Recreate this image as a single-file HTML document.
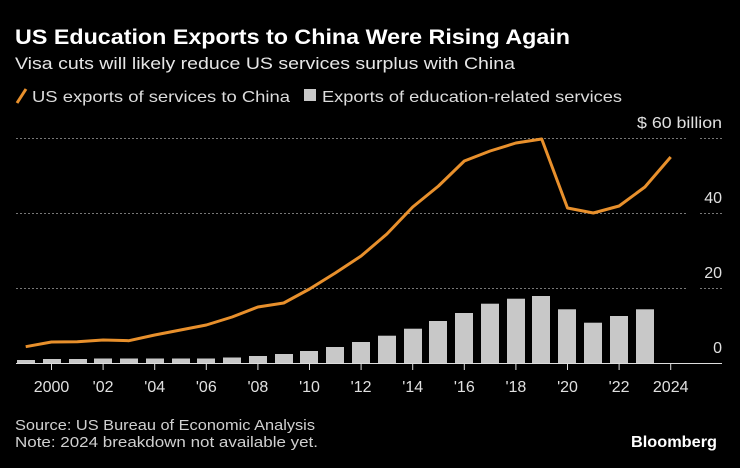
<!DOCTYPE html>
<html><head><meta charset="utf-8"><style>
html,body{margin:0;padding:0;background:#000;}
svg{display:block;font-family:"Liberation Sans",sans-serif;}
</style></head><body>
<svg width="740" height="468" viewBox="0 0 740 468" xmlns="http://www.w3.org/2000/svg">
<rect width="740" height="468" fill="#000"/>
<text x="15" y="44" fill="#fff" font-size="21" font-weight="bold" textLength="555" lengthAdjust="spacingAndGlyphs">US Education Exports to China Were Rising Again</text>
<text x="15" y="69" fill="#e6e6e6" font-size="17" textLength="500" lengthAdjust="spacingAndGlyphs">Visa cuts will likely reduce US services surplus with China</text>
<line x1="17" y1="103" x2="26" y2="89" stroke="#e8902c" stroke-width="3"/>
<text x="32" y="102" fill="#dcdcdc" font-size="16" textLength="258" lengthAdjust="spacingAndGlyphs">US exports of services to China</text>
<rect x="304" y="89" width="12" height="12" fill="#c8c8c8"/>
<text x="322" y="102" fill="#dcdcdc" font-size="16" textLength="300" lengthAdjust="spacingAndGlyphs">Exports of education-related services</text>
<g stroke="#777" stroke-width="1" stroke-dasharray="2,2">
<line x1="16" y1="138.5" x2="688" y2="138.5"/><line x1="700" y1="138.5" x2="722" y2="138.5"/>
<line x1="16" y1="213.5" x2="688" y2="213.5"/><line x1="700" y1="213.5" x2="722" y2="213.5"/>
<line x1="16" y1="288.5" x2="688" y2="288.5"/><line x1="700" y1="288.5" x2="722" y2="288.5"/>
</g>
<g fill="#e0e0e0" font-size="16" text-anchor="end">
<text x="722" y="128" textLength="85" lengthAdjust="spacingAndGlyphs">$ 60 billion</text>
<text x="722" y="203">40</text>
<text x="722" y="278">20</text>
<text x="722" y="353">0</text>
</g>
<g fill="#c8c8c8">
<rect x="17" y="360" width="18" height="3"/>
<rect x="43" y="359" width="18" height="4"/>
<rect x="69" y="359" width="18" height="4"/>
<rect x="94" y="358.5" width="18" height="4.5"/>
<rect x="120" y="358.5" width="18" height="4.5"/>
<rect x="146" y="358.5" width="18" height="4.5"/>
<rect x="172" y="358.5" width="18" height="4.5"/>
<rect x="197" y="358.5" width="18" height="4.5"/>
<rect x="223" y="357.5" width="18" height="5.5"/>
<rect x="249" y="356" width="18" height="7"/>
<rect x="275" y="354" width="18" height="9"/>
<rect x="300" y="351" width="18" height="12"/>
<rect x="326" y="347" width="18" height="16"/>
<rect x="352" y="342" width="18" height="21"/>
<rect x="378" y="335.7" width="18" height="27.3"/>
<rect x="404" y="328.7" width="18" height="34.3"/>
<rect x="429" y="321" width="18" height="42"/>
<rect x="455" y="313" width="18" height="50"/>
<rect x="481" y="303.7" width="18" height="59.3"/>
<rect x="507" y="298.7" width="18" height="64.3"/>
<rect x="532" y="296" width="18" height="67"/>
<rect x="558" y="309.3" width="18" height="53.7"/>
<rect x="584" y="322.7" width="18" height="40.3"/>
<rect x="610" y="316" width="18" height="47"/>
<rect x="636" y="309.3" width="18" height="53.7"/>
</g>
<polyline fill="none" stroke="#e8902c" stroke-width="3" stroke-linejoin="round" points="25.7,346.7 51.5,342 77.3,341.7 103.1,340 128.9,340.7 154.7,335 180.5,330 206.3,325 232.1,317 257.9,307 283.7,303 309.5,289 335.3,273 361.1,256 386.9,234 412.7,207 438.5,186 464.3,161 490.1,151 515.9,143 541.7,139 567.5,208 593.3,213 619.1,206 644.9,187 670.7,157"/>
<line x1="16" y1="363.5" x2="722" y2="363.5" stroke="#ddd" stroke-width="1"/>
<g stroke="#ddd" stroke-width="1">
<line x1="51.5" y1="364" x2="51.5" y2="370"/><line x1="103.1" y1="364" x2="103.1" y2="370"/><line x1="154.7" y1="364" x2="154.7" y2="370"/><line x1="206.3" y1="364" x2="206.3" y2="370"/><line x1="257.9" y1="364" x2="257.9" y2="370"/><line x1="309.5" y1="364" x2="309.5" y2="370"/><line x1="361.1" y1="364" x2="361.1" y2="370"/><line x1="412.7" y1="364" x2="412.7" y2="370"/><line x1="464.3" y1="364" x2="464.3" y2="370"/><line x1="515.9" y1="364" x2="515.9" y2="370"/><line x1="567.5" y1="364" x2="567.5" y2="370"/><line x1="619.1" y1="364" x2="619.1" y2="370"/><line x1="670.7" y1="364" x2="670.7" y2="370"/>
</g>
<g fill="#e0e0e0" font-size="16" text-anchor="middle">
<text x="51.5" y="392">2000</text><text x="103.1" y="392">'02</text><text x="154.7" y="392">'04</text><text x="206.3" y="392">'06</text><text x="257.9" y="392">'08</text><text x="309.5" y="392">'10</text><text x="361.1" y="392">'12</text><text x="412.7" y="392">'14</text><text x="464.3" y="392">'16</text><text x="515.9" y="392">'18</text><text x="567.5" y="392">'20</text><text x="619.1" y="392">'22</text><text x="670.7" y="392">2024</text>
</g>
<text x="15" y="430" fill="#d0d0d0" font-size="15" textLength="300" lengthAdjust="spacingAndGlyphs">Source: US Bureau of Economic Analysis</text>
<text x="15" y="447" fill="#d0d0d0" font-size="15" textLength="303" lengthAdjust="spacingAndGlyphs">Note: 2024 breakdown not available yet.</text>
<text x="717" y="447" fill="#fff" font-size="16" font-weight="bold" text-anchor="end" textLength="86" lengthAdjust="spacingAndGlyphs">Bloomberg</text>
</svg>
</body></html>
